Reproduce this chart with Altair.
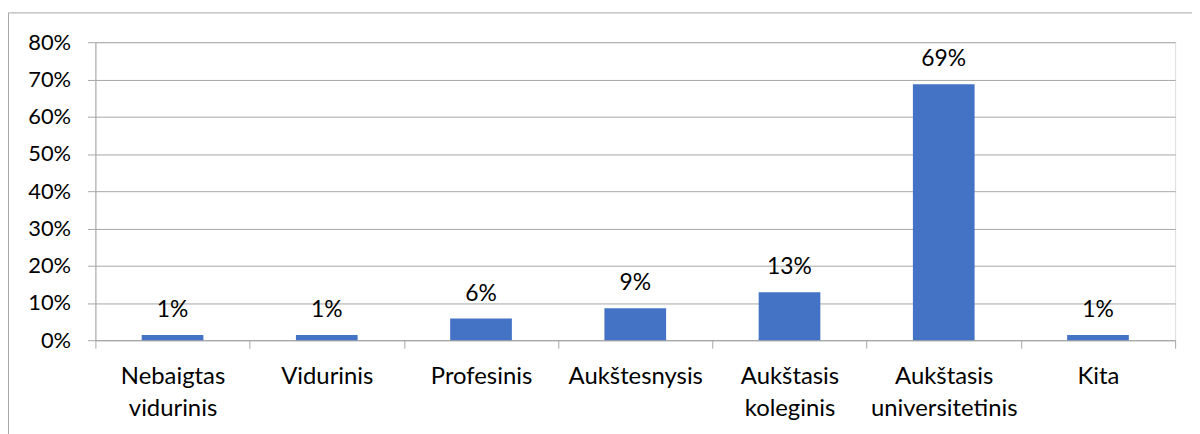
import altair as alt
import pandas as pd

categories = ["Nebaigtas vidurinis", "Vidurinis", "Profesinis", "Aukštesnysis",
              "Aukštasis koleginis", "Aukštasis universitetinis", "Kita"]
values = [0.014, 0.014, 0.058, 0.086, 0.129, 0.687, 0.014]
labels = ["1%", "1%", "6%", "9%", "13%", "69%", "1%"]

df = pd.DataFrame({"cat": categories, "val": values, "lab": labels})

FONT = "Lato"
GRID = "#a6a6a6"

x = alt.X("cat:N", sort=categories, title=None,
          scale=alt.Scale(paddingInner=0, paddingOuter=0),
          axis=alt.Axis(labelAngle=0, tickBand="extent", domainColor=GRID, tickColor=GRID,
                        tickSize=8, labelFont=FONT, labelFontSize=24, labelColor="#000000",
                        labelPadding=17, labelLineHeight=32,
                        labelExpr="split(datum.label, ' ')", grid=False))
y = alt.Y("val:Q", title=None,
          scale=alt.Scale(domain=[0, 0.8]),
          axis=alt.Axis(format=".0%", values=[0, 0.1, 0.2, 0.3, 0.4, 0.5, 0.6, 0.7, 0.8],
                        grid=True, gridColor=GRID, domainColor=GRID, tickColor=GRID,
                        tickSize=8, labelPadding=17, labelFont=FONT, labelFontSize=22,
                        labelColor="#000000"))

bars = alt.Chart(df).mark_bar(color="#4472C4", width=alt.RelativeBandSize(0.4)).encode(x=x, y=y)
text = alt.Chart(df).mark_text(font=FONT, fontSize=23, color="#000000", baseline="alphabetic",
                               dy=-18).encode(x=x, y=y, text="lab:N")

border = alt.Chart(pd.DataFrame({"a": [0]})).mark_rect(
    fill=None, stroke="#a6a6a6", strokeWidth=1, clip=False
).encode(x=alt.value(-87.5), x2=alt.value(1300), y=alt.value(-29.5), y2=alt.value(600))

chart = alt.layer(border, bars, text).properties(
    width=1087, height=300,
    padding={"left": 88, "top": 33, "right": 17, "bottom": 93},
    autosize=alt.AutoSizeParams(type="none"),
).configure_view(stroke=None).configure(background="white")

chart.save("out.html", embed_options={"renderer": "svg", "actions": False})
